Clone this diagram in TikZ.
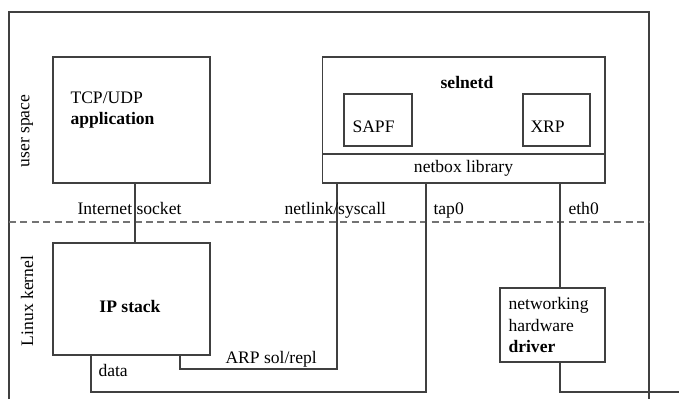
\documentclass[tikz,border=0pt]{standalone}
\usepackage{fontspec}
\setmainfont{Liberation Serif}

\begin{document}
\begin{tikzpicture}[x=0.02cm,y=-0.02cm,line width=0.6pt,
box/.style={draw=black!75,rectangle,inner sep=0pt},
lbl/.style={anchor=base west,inner sep=0pt},
sep/.style={draw=black!55,dash pattern=on 4pt off 2.5pt}]
\useasboundingbox (0,0) rectangle (679,399);

\draw[black!75] (9,399) |- (649,12) -- (649,399);
\draw[sep] (9,222) -- (649,222);
\node[rotate=90] (us) at (27,131) {user space};
\node[rotate=90] (lk) at (27,301) {Linux kernel};

\node[box,minimum width=3.14cm,minimum height=2.52cm] (app) at (131.5,120) {};
\node[anchor=west,align=left,inner sep=0pt] (apptxt) at (70,110) {TCP/UDP\\\textbf{application}};

\node[box,minimum width=5.66cm,minimum height=2.52cm] (sel) at (463.5,120) {};
\node[box,minimum width=5.66cm,minimum height=0.58cm] (netbox) at (463.5,168.5) {netbox library};
\node[anchor=base,font=\bfseries] (seltxt) at (467,88) {selnetd};
\node[box,minimum width=1.36cm,minimum height=1.04cm] (sapf) at (378,120) {};
\node[lbl] (sapftxt) at (352,132) {SAPF};
\node[box,minimum width=1.34cm,minimum height=1.04cm] (xrp) at (556.5,120) {};
\node[lbl] (xrptxt) at (530,132) {XRP};

\node[box,minimum width=3.14cm,minimum height=2.24cm] (ip) at (131.5,299) {};
\node[anchor=base,font=\bfseries] (iptxt) at (130,312) {IP stack};

\node[box,minimum width=2.1cm,minimum height=1.48cm] (drv) at (552.5,325) {};
\node[anchor=west,align=left,inner sep=0pt] (drvtxt) at (508,325) {networking\\hardware\\\textbf{driver}};

\coordinate (nlx) at (337,0);
\coordinate (tapx) at (426,0);
\coordinate (ethx) at (560,0);
\coordinate (arpa) at (180,369);
\coordinate (dataa) at (91,392);
\coordinate (out) at (679,392);

\draw[black!75] ([xshift=2pt]app.south) -- ([xshift=2pt]ip.north);
\draw[black!75] (ip.south -| arpa) -- (arpa) -| (netbox.south -| nlx);
\draw[black!75] (ip.south -| dataa) -- (dataa) -| (netbox.south -| tapx);
\draw[black!75] (netbox.south -| ethx) -- (drv.north -| ethx);
\draw[black!75] (drv.south -| ethx) |- (out);

\node[lbl] (sock) at (77,214) {Internet socket};
\node[lbl] (nl) at (284,214) {netlink/syscall};
\node[lbl] (tap) at (433,214) {tap0};
\node[lbl] (eth) at (568,214) {eth0};
\node[lbl] (arp) at (225,363) {ARP sol/repl};
\node[lbl] (data) at (98,376) {data};
\end{tikzpicture}
\end{document}
